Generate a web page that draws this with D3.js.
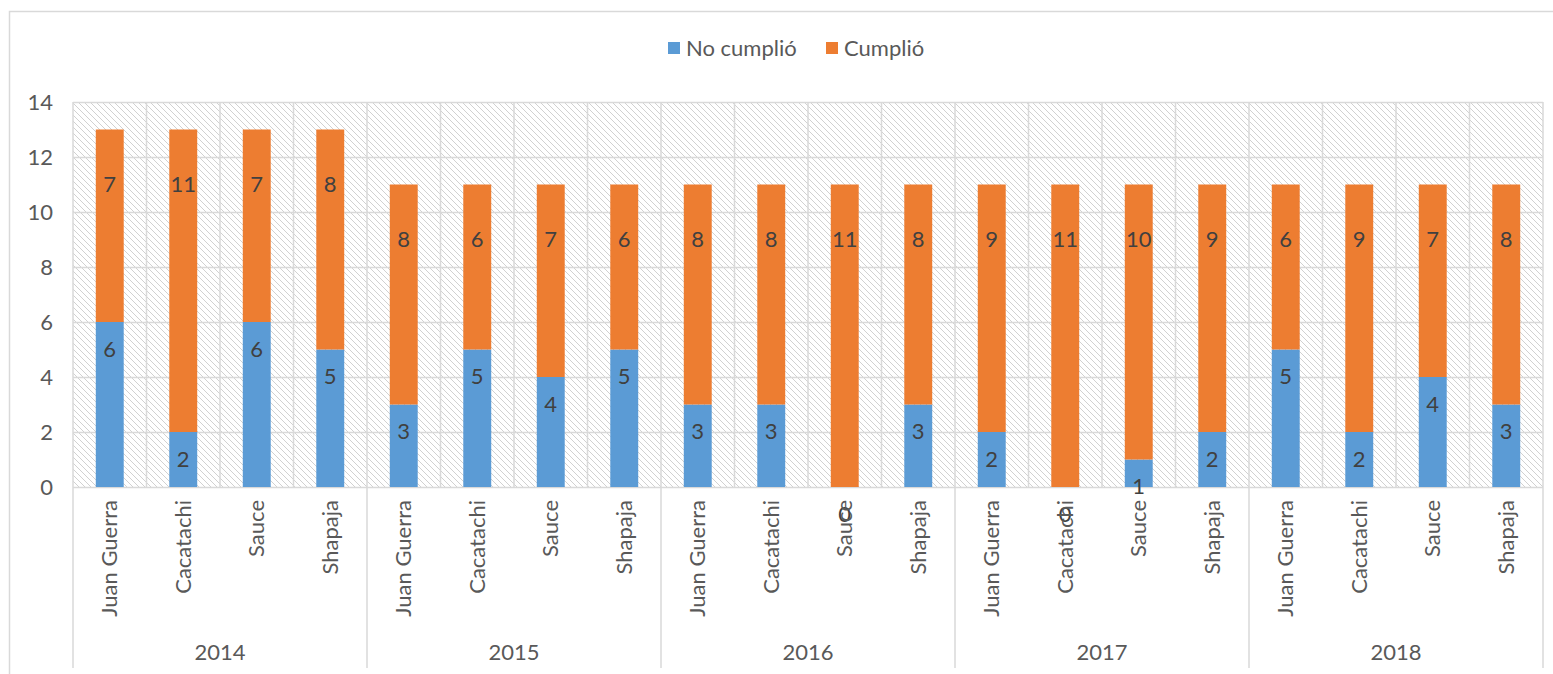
<!DOCTYPE html>
<html>
<head>
<meta charset="utf-8">
<script src="https://cdn.jsdelivr.net/npm/d3@7"></script>
<style>
  body { margin: 0; background: #fff; }
  text { font-family: Lato, "Open Sans", sans-serif; }
</style>
</head>
<body>
<svg id="chart" width="1553" height="674"></svg>
<script>
// data
const years = ["2014", "2015", "2016", "2017", "2018"];
const places = ["Juan Guerra", "Cacatachi", "Sauce", "Shapaja"];
const noCumplio = [6, 2, 6, 5,  3, 5, 4, 5,  3, 3, 0, 3,  2, 0, 1, 2,  5, 2, 4, 3];
const cumplio   = [7, 11, 7, 8, 8, 6, 7, 6,  8, 8, 11, 8, 9, 11, 10, 9, 6, 9, 7, 8];
const yTicks = [0, 2, 4, 6, 8, 10, 12, 14];
const seriesNames = ["No cumplió", "Cumplió"];
const colors = ["#5B9BD5", "#ED7D31"];

const svg = d3.select("#chart");
const plotL = 73, plotR = 1543, plotT = 102, plotB = 487;
const fs = 22;

// category keys
const cats = [];
years.forEach(function (yr) {
    places.forEach(function (p) { cats.push(yr + "|" + p); });
});

const x = d3.scaleBand().domain(cats).range([plotL, plotR]).paddingInner(0.62).paddingOuter(0.31);
const band = (plotR - plotL) / cats.length;
const y = d3.scaleLinear().domain([0, 14]).range([plotB, plotT]);

// outer chart border
svg.append("rect")
    .attr("x", 9.5).attr("y", 11.5).attr("width", 1600).attr("height", 700)
    .attr("fill", "none").attr("stroke", "#d9d9d9").attr("stroke-width", 1.5);

// hatch pattern for plot area
const defs = svg.append("defs");
const pat = defs.append("pattern")
    .attr("id", "hatch").attr("patternUnits", "userSpaceOnUse")
    .attr("width", 6).attr("height", 6);
pat.append("rect").attr("width", 6).attr("height", 6).attr("fill", "#fff");
pat.append("path")
    .attr("d", "M-1,-1 L7,7 M-1,5 L1,7 M5,-1 L7,1")
    .attr("stroke", "#cccccc").attr("stroke-width", 0.9);

svg.append("rect")
    .attr("x", plotL).attr("y", plotT).attr("width", plotR - plotL).attr("height", plotB - plotT)
    .attr("fill", "url(#hatch)");

// horizontal gridlines
svg.append("g").selectAll("line").data(yTicks).enter().append("line")
    .attr("x1", plotL).attr("x2", plotR)
    .attr("y1", function (d) { return y(d) + 0.5; })
    .attr("y2", function (d) { return y(d) + 0.5; })
    .attr("stroke", "#d9d9d9").attr("stroke-width", 1.5);

// vertical gridlines at category boundaries
svg.append("g").selectAll("line").data(d3.range(cats.length + 1)).enter().append("line")
    .attr("x1", function (i) { return plotL + i * band; })
    .attr("x2", function (i) { return plotL + i * band; })
    .attr("y1", plotT).attr("y2", plotB)
    .attr("stroke", "#d9d9d9").attr("stroke-width", 1.5);

// group separators below the axis
svg.append("g").selectAll("line").data(d3.range(years.length + 1)).enter().append("line")
    .attr("x1", function (i) { return plotL + i * band * places.length; })
    .attr("x2", function (i) { return plotL + i * band * places.length; })
    .attr("y1", plotB).attr("y2", 668)
    .attr("stroke", "#d9d9d9").attr("stroke-width", 1.5);

// y axis labels
svg.append("g").selectAll("text").data(yTicks).enter().append("text")
    .attr("x", 53).attr("y", function (d) { return y(d); })
    .attr("dy", "0.35em").attr("text-anchor", "end")
    .attr("font-size", fs).attr("fill", "#595959")
    .text(function (d) { return d; });

// stacked bars
const rows = cats.map(function (c, i) {
    return { key: c, no: noCumplio[i], si: cumplio[i] };
});
const stack = d3.stack().keys(["no", "si"])(rows);

const layers = svg.append("g").selectAll("g").data(stack).enter().append("g")
    .attr("fill", function (d, i) { return colors[i]; });
layers.selectAll("rect").data(function (d) { return d; }).enter().append("rect")
    .attr("x", function (d) { return x(d.data.key); })
    .attr("width", x.bandwidth())
    .attr("y", function (d) { return y(d[1]); })
    .attr("height", function (d) { return y(d[0]) - y(d[1]); });

// value labels, placed below the top of each segment as in the original
const labelDrop = { no: 27, si: 55 };
stack.forEach(function (layer) {
    svg.append("g").selectAll("text").data(layer).enter().append("text")
        .attr("x", function (d) { return x(d.data.key) + x.bandwidth() / 2; })
        .attr("y", function (d) { return y(d[1]) + labelDrop[layer.key]; })
        .attr("dy", "0.35em").attr("text-anchor", "middle")
        .attr("font-size", fs).attr("fill", "#404040")
        .text(function (d) { return d[1] - d[0]; });
});

// category labels (rotated)
svg.append("g").selectAll("text").data(cats).enter().append("text")
    .attr("transform", function (c) {
        return "translate(" + (x(c) + x.bandwidth() / 2) + ",500) rotate(-90)";
    })
    .attr("dy", "0.35em").attr("text-anchor", "end")
    .attr("font-size", fs).attr("fill", "#595959")
    .text(function (c) { return c.split("|")[1]; });

// year labels
svg.append("g").selectAll("text").data(years).enter().append("text")
    .attr("x", function (d, i) { return plotL + (i + 0.5) * band * places.length; })
    .attr("y", 652).attr("dy", "0.35em").attr("text-anchor", "middle")
    .attr("font-size", fs).attr("fill", "#595959")
    .text(function (d) { return d; });

// legend
const legendX = [668, 826];
const lg = svg.append("g").selectAll("g").data(seriesNames).enter().append("g")
    .attr("transform", function (d, i) { return "translate(" + legendX[i] + ",42)"; });
lg.append("rect").attr("width", 12).attr("height", 12)
    .attr("fill", function (d, i) { return colors[i]; });
lg.append("text").attr("x", 18).attr("y", 6).attr("dy", "0.35em")
    .attr("font-size", fs).attr("fill", "#595959")
    .text(function (d) { return d; });
</script>
</body>
</html>
